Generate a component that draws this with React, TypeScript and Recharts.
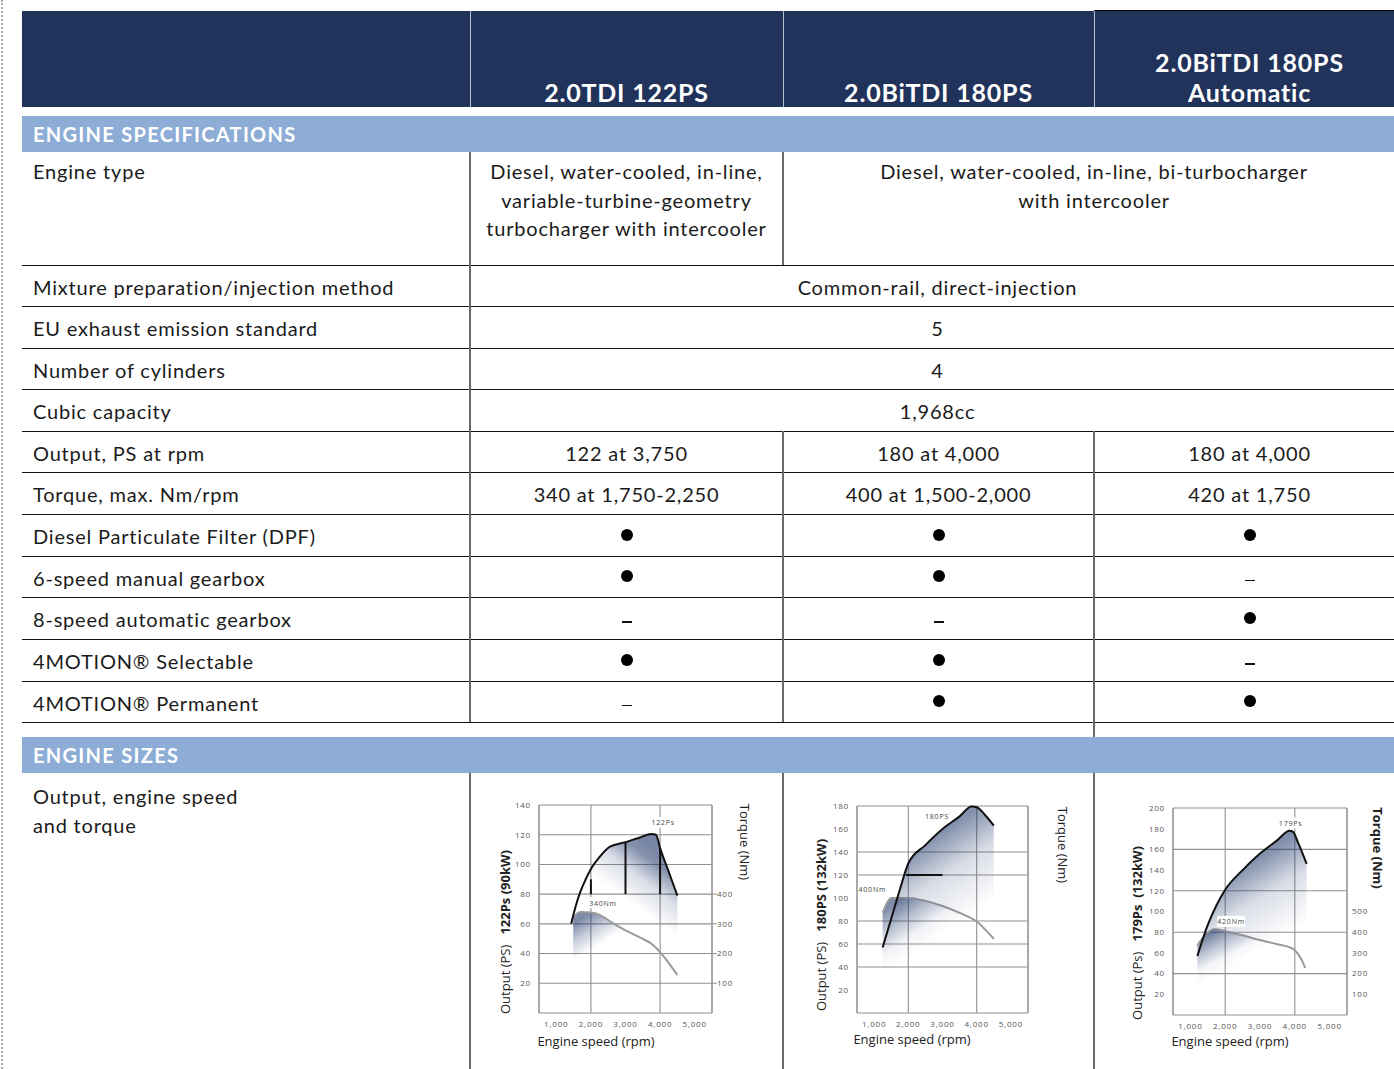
import React from "react";
import {
  ComposedChart,
  Area,
  XAxis,
  YAxis,
  CartesianGrid,
  ReferenceLine,
  ReferenceDot,
} from "recharts";

const NAVY = "#21335a";
const BAND_BLUE = "#8dadd6";
const FILL = "#1d3568";
const GRID = "#909090";

const modelNames = ["2.0TDI 122PS", "2.0BiTDI 180PS", "2.0BiTDI 180PS"];
const modelSubtitles = ["", "", "Automatic"];

const rpmTicks = [1000, 2000, 3000, 4000, 5000];
const rpmGrid = [500, 1000, 2000, 3000, 4000, 5000, 5500];

// 2.0TDI 122PS
const power122Rpm = [1430, 1550, 1670, 1850, 2000, 2250, 2550, 3000, 3400, 3750, 3880, 4000, 4250, 4500];
const power122Ps = [60, 71, 80, 90, 97, 105, 112, 115, 118, 120.5, 120, 111, 95, 79];
const torque340Rpm = [1490, 1600, 1700, 2000, 2250, 2600, 3000, 3400, 3750, 4000, 4250, 4500];
const torque340Nm = [320, 335, 340, 338, 330, 305, 278, 255, 233, 205, 168, 128];
const axis122Ps = [20, 40, 60, 80, 100, 120, 140];
const grid122Ps = [10, 20, 30, 40, 50, 60, 70, 80, 90, 100, 110, 120, 130, 140];
const axis122Nm = [100, 200, 300, 400];

// 2.0BiTDI 180PS
const power180Rpm = [1250, 1500, 1750, 2000, 2500, 3000, 3500, 3850, 4000, 4250, 4500];
const power180Ps = [57, 82, 107, 130, 146, 160, 171, 179.5, 179, 172, 163];
const torque400Rpm = [1250, 1400, 1500, 2000, 2500, 3000, 3500, 4000, 4250, 4500];
const torque400Nm = [348, 388, 400, 400, 390, 372, 348, 318, 290, 258];
const axis180Ps = [20, 40, 60, 80, 100, 120, 140, 160, 180];

// 2.0BiTDI 180PS Automatic
const power179Rpm = [1200, 1500, 1750, 2000, 2500, 3000, 3500, 3850, 3950, 4100, 4340];
const power179Ps = [57, 87, 106, 121, 140, 156, 169, 178, 177, 166, 146];
const torque420Rpm = [1200, 1450, 1700, 2000, 2500, 3000, 3500, 3800, 4000, 4150, 4300];
const torque420Nm = [337, 390, 414, 405, 385, 362, 342, 330, 313, 280, 228];
const axis179Ps = [20, 40, 60, 80, 100, 120, 140, 160, 180, 200];
const axis179Nm = [100, 200, 300, 400, 500];

type Pt = { rpm: number; v: number };
const zip = (xs: number[], ys: number[]): Pt[] => xs.map((rpm, i) => ({ rpm, v: ys[i] }));

const specRows = [
  {
    label: "Engine type",
    spans: [1, 2],
    values: [
      ["Diesel, water-cooled, in-line,", "variable-turbine-geometry", "turbocharger with intercooler"],
      ["Diesel, water-cooled, in-line, bi-turbocharger", "with intercooler"],
    ],
  },
  { label: "Mixture preparation/injection method", spans: [3], values: [["Common-rail, direct-injection"]] },
  { label: "EU exhaust emission standard", spans: [3], values: [["5"]] },
  { label: "Number of cylinders", spans: [3], values: [["4"]] },
  { label: "Cubic capacity", spans: [3], values: [["1,968cc"]] },
  { label: "Output, PS at rpm", spans: [1, 1, 1], values: [["122 at 3,750"], ["180 at 4,000"], ["180 at 4,000"]] },
  {
    label: "Torque, max. Nm/rpm",
    spans: [1, 1, 1],
    values: [["340 at 1,750-2,250"], ["400 at 1,500-2,000"], ["420 at 1,750"]],
  },
  { label: "Diesel Particulate Filter (DPF)", spans: [1, 1, 1], values: [["●"], ["●"], ["●"]] },
  { label: "6-speed manual gearbox", spans: [1, 1, 1], values: [["●"], ["●"], ["–"]] },
  { label: "8-speed automatic gearbox", spans: [1, 1, 1], values: [["–"], ["–"], ["●"]] },
  { label: "4MOTION® Selectable", spans: [1, 1, 1], values: [["●"], ["●"], ["–"]] },
  { label: "4MOTION® Permanent", spans: [1, 1, 1], values: [["–"], ["●"], ["●"]] },
];

const ROW_Y = [152, 265, 306, 348, 389, 431, 472, 514, 556, 597, 639, 681, 722];
const COL_X = [470, 783, 1094, 1405];
const TABLE_LEFT = 22;
const FONT = "Lato, 'Open Sans', sans-serif";
const CHART_FONT = "'Open Sans', sans-serif";

const fmtRpm = (v: number) => v.toLocaleString("en-US");

function tagShape(text: string) {
  return (p: any) => (
    <g>
      <rect x={p.cx - 14} y={p.cy - 6} width={28} height={11} fill="#fff" />
      <text x={p.cx} y={p.cy + 2.5} textAnchor="middle" fontSize={7} fontFamily={CHART_FONT} fill="#444">
        {text}
      </text>
    </g>
  );
}

type Tag = { x: number; y: number; text: string };
type Seg = { x1: number; y1: number; x2: number; y2: number };

function EngineChart(props: {
  id: string;
  left: number;
  top: number;
  width: number;
  height: number;
  yMax: number;
  yTicks: number[];
  yGrid: number[];
  rMax: number;
  rTicks: number[];
  rTickLine: boolean;
  power: Pt[];
  torque: Pt[];
  segments: Seg[];
  tags: Tag[];
  pGrad: number[];
  tGrad: number[];
}) {
  const { id } = props;
  const tick = { fontSize: 8, fill: "#555", fontFamily: CHART_FONT };
  return (
    <div style={{ position: "absolute", left: props.left - 35, top: props.top - 5 }}>
      <ComposedChart
        width={props.width + 70}
        height={props.height + 30}
        margin={{ top: 5, right: 0, bottom: 0, left: 0 }}
      >
        <defs>
          <linearGradient id={`p-${id}`} x1={props.pGrad[0]} y1={props.pGrad[1]} x2={props.pGrad[2]} y2={props.pGrad[3]}>
            <stop offset="0" stopColor={FILL} stopOpacity={1} />
            <stop offset="0.2" stopColor={FILL} stopOpacity={0.9} />
            <stop offset="0.55" stopColor={FILL} stopOpacity={0.28} />
            <stop offset="1" stopColor={FILL} stopOpacity={0} />
          </linearGradient>
          <linearGradient id={`t-${id}`} x1={props.tGrad[0]} y1={props.tGrad[1]} x2={props.tGrad[2]} y2={props.tGrad[3]}>
            <stop offset="0" stopColor={FILL} stopOpacity={0.95} />
            <stop offset="0.5" stopColor={FILL} stopOpacity={0.4} />
            <stop offset="1" stopColor={FILL} stopOpacity={0} />
          </linearGradient>
        </defs>
        <CartesianGrid
          yAxisId="left"
          horizontalValues={props.yGrid}
          verticalValues={rpmGrid}
          stroke={GRID}
          strokeWidth={1.1}
        />
        <XAxis
          type="number"
          dataKey="rpm"
          domain={[500, 5500]}
          ticks={rpmTicks}
          tickFormatter={fmtRpm}
          height={25}
          axisLine={{ stroke: GRID }}
          tickLine={false}
          tick={tick}
        />
        <YAxis
          yAxisId="left"
          domain={[0, props.yMax]}
          ticks={props.yTicks}
          width={35}
          axisLine={{ stroke: GRID }}
          tickLine={false}
          tick={tick}
        />
        <YAxis
          yAxisId="right"
          orientation="right"
          domain={[0, props.rMax]}
          ticks={props.rTicks}
          width={35}
          axisLine={{ stroke: GRID }}
          tickLine={props.rTickLine ? { stroke: GRID } : false}
          tickSize={5}
          tickMargin={0}
          tick={props.rTicks.length ? tick : false}
        />
        <Area
          yAxisId="right"
          data={props.torque}
          dataKey="v"
          type="monotone"
          stroke="#9a9a9a"
          strokeWidth={2}
          fill={`url(#t-${id})`}
          isAnimationActive={false}
        />
        <Area
          yAxisId="left"
          data={props.power}
          dataKey="v"
          type="monotone"
          stroke="#111"
          strokeWidth={2}
          fill={`url(#p-${id})`}
          isAnimationActive={false}
        />
        {props.segments.map((s, i) => (
          <ReferenceLine
            key={i}
            yAxisId="left"
            segment={[
              { x: s.x1, y: s.y1 },
              { x: s.x2, y: s.y2 },
            ]}
            stroke="#111"
            strokeWidth={2}
          />
        ))}
        {props.tags.map((t, i) => (
          <ReferenceDot key={i} yAxisId="left" x={t.x} y={t.y} r={0} shape={tagShape(t.text)} />
        ))}
      </ComposedChart>
    </div>
  );
}

function RotText(props: { x: number; y: number; angle: number; children: React.ReactNode; bold?: boolean }) {
  return (
    <div
      style={{
        position: "absolute",
        left: props.x,
        top: props.y,
        transform: `translate(-50%, -50%) rotate(${props.angle}deg)`,
        whiteSpace: "nowrap",
        fontFamily: CHART_FONT,
        fontSize: 13,
        letterSpacing: 0,
        color: "#222",
        fontWeight: props.bold ? 700 : 400,
      }}
    >
      {props.children}
    </div>
  );
}

function Mark({ kind }: { kind: string }) {
  if (kind === "●") {
    return <div style={{ width: 12, height: 12, borderRadius: 6, background: "#000", marginTop: -4 }} />;
  }
  return <div style={{ width: 10, height: 1.6, background: "#111", marginTop: 5 }} />;
}

export default function App() {
  const vline = (x: number, y1: number, y2: number, key: string) => (
    <div key={key} style={{ position: "absolute", left: x - 0.75, top: y1, width: 1.5, height: y2 - y1, background: "#6a6a6a" }} />
  );
  const lines: React.ReactNode[] = [];
  const cells: React.ReactNode[] = [];

  specRows.forEach((row, r) => {
    const top = ROW_Y[r];
    const bottom = ROW_Y[r + 1];
    const tall = r === 0;
    lines.push(
      <div key={`h${r}`} style={{ position: "absolute", left: TABLE_LEFT, top: bottom - 0.5, width: 1405 - TABLE_LEFT, height: 1, background: "#111" }} />
    );
    cells.push(
      <div
        key={`l${r}`}
        style={{
          position: "absolute",
          left: 33,
          top,
          height: bottom - top,
          display: "flex",
          alignItems: tall ? "flex-start" : "center",
          paddingTop: tall ? 5 : 3,
          boxSizing: "border-box",
          lineHeight: "28.5px",
          whiteSpace: "nowrap",
        }}
      >
        {row.label}
      </div>
    );
    let col = 0;
    row.spans.forEach((span, c) => {
      const x0 = COL_X[col];
      const x1 = COL_X[col + span];
      lines.push(vline(x0, top, bottom, `v${r}-${c}`));
      const vals = row.values[c];
      const isMark = vals[0] === "●" || vals[0] === "–";
      cells.push(
        <div
          key={`c${r}-${c}`}
          style={{
            position: "absolute",
            left: x0,
            top,
            width: x1 - x0,
            height: bottom - top,
            display: "flex",
            flexDirection: "column",
            alignItems: "center",
            justifyContent: tall ? "flex-start" : "center",
            paddingTop: tall ? 5 : 3,
            boxSizing: "border-box",
            lineHeight: "28.5px",
            textAlign: "center",
            whiteSpace: "nowrap",
          }}
        >
          {isMark ? <Mark kind={vals[0]} /> : vals.map((t, i) => <div key={i}>{t}</div>)}
        </div>
      );
      col += span;
    });
  });

  const band = (top: number, text: string) => (
    <div
      style={{
        position: "absolute",
        left: TABLE_LEFT,
        top,
        width: 1405 - TABLE_LEFT,
        height: 36,
        background: BAND_BLUE,
        color: "#fff",
        fontWeight: 700,
        fontSize: 20,
        letterSpacing: 1.3,
        display: "flex",
        alignItems: "center",
        paddingLeft: 11,
        boxSizing: "border-box",
      }}
    >
      {text}
    </div>
  );

  return (
    <div
      style={{
        position: "absolute",
        left: 0,
        top: 0,
        width: 1394,
        height: 1069,
        overflow: "hidden",
        background: "#fff",
        fontFamily: FONT,
        fontSize: 20,
        letterSpacing: 0.8,
        color: "#1b1b1b",
      }}
    >
      <div style={{ position: "absolute", left: 1, top: 0, height: 1069, borderLeft: "2px dotted #aaa" }} />

      {/* header */}
      <div style={{ position: "absolute", left: TABLE_LEFT, top: 11, width: 1405 - TABLE_LEFT, height: 96, background: NAVY }} />
      <div style={{ position: "absolute", left: 1094, top: 10, width: 311, height: 1, background: "#000" }} />
      {[470, 783, 1094].map((x) => (
        <div key={x} style={{ position: "absolute", left: x, top: 11, width: 1.2, height: 96, background: "#b8bfcc" }} />
      ))}
      {modelNames.map((name, i) => (
        <div
          key={i}
          style={{
            position: "absolute",
            left: COL_X[i],
            top: 11,
            width: COL_X[i + 1] - COL_X[i],
            height: 96,
            display: "flex",
            flexDirection: "column",
            justifyContent: "flex-end",
            alignItems: "center",
            color: "#fff",
            fontWeight: 700,
            fontSize: 25,
            letterSpacing: 0.8,
            lineHeight: "30px",
          }}
        >
          <div>{name}</div>
          {modelSubtitles[i] ? <div>{modelSubtitles[i]}</div> : null}
        </div>
      ))}

      {band(116, "ENGINE SPECIFICATIONS")}
      {lines}
      {cells}
      {vline(1094, 722, 737, "gap")}

      {band(737, "ENGINE SIZES")}
      {[470, 783, 1094].map((x) => vline(x, 773, 1069, `s${x}`))}
      <div style={{ position: "absolute", left: 33, top: 782, lineHeight: "28.5px" }}>
        <div>Output, engine speed</div>
        <div>and torque</div>
      </div>

      <EngineChart
        id="c1"
        left={539}
        top={805}
        width={173}
        height={208}
        yMax={140}
        yTicks={axis122Ps}
        yGrid={grid122Ps}
        rMax={700}
        rTicks={axis122Nm}
        rTickLine={true}
        power={zip(power122Rpm, power122Ps)}
        torque={zip(torque340Rpm, torque340Nm)}
        segments={[
          { x1: 2000, y1: 80, x2: 2000, y2: 90 },
          { x1: 3000, y1: 80, x2: 3000, y2: 115 },
          { x1: 4000, y1: 80, x2: 4000, y2: 111 },
        ]}
        tags={[
          { x: 4090, y: 128, text: "122Ps" },
          { x: 2350, y: 74, text: "340Nm" },
        ]}
        pGrad={[0.65, 0.02, 0.5, 0.36]}
        tGrad={[0.15, 0.02, 0.32, 0.28]}
      />
      <EngineChart
        id="c2"
        left={857}
        top={806}
        width={171}
        height={207}
        yMax={180}
        yTicks={axis180Ps}
        yGrid={axis180Ps}
        rMax={720}
        rTicks={[]}
        rTickLine={false}
        power={zip(power180Rpm, power180Ps)}
        torque={zip(torque400Rpm, torque400Nm)}
        segments={[{ x1: 1930, y1: 120, x2: 3000, y2: 120 }]}
        tags={[
          { x: 2840, y: 171, text: "180PS" },
          { x: 950, y: 107, text: "400Nm" },
        ]}
        pGrad={[0.4, 0.05, 0.6, 0.6]}
        tGrad={[0.15, 0.02, 0.32, 0.28]}
      />
      <EngineChart
        id="c3"
        left={1173}
        top={808}
        width={174}
        height={207}
        yMax={200}
        yTicks={axis179Ps}
        yGrid={axis179Ps}
        rMax={1000}
        rTicks={axis179Nm}
        rTickLine={false}
        power={zip(power179Rpm, power179Ps)}
        torque={zip(torque420Rpm, torque420Nm)}
        segments={[]}
        tags={[
          { x: 3880, y: 185, text: "179Ps" },
          { x: 2170, y: 90, text: "420Nm" },
        ]}
        pGrad={[0.5, 0.05, 0.7, 0.6]}
        tGrad={[0.15, 0.02, 0.32, 0.28]}
      />

      <RotText x={505} y={932} angle={-90}>
        Output (PS)&nbsp;&nbsp;&nbsp;<b>122Ps (90kW)</b>
      </RotText>
      <RotText x={745} y={842} angle={90}>
        Torque (Nm)
      </RotText>
      <RotText x={596} y={1041} angle={0}>
        Engine speed (rpm)
      </RotText>

      <RotText x={821} y={925} angle={-90}>
        Output (PS)&nbsp;&nbsp;&nbsp;<b>180PS (132kW)</b>
      </RotText>
      <RotText x={1063} y={845} angle={90}>
        Torque (Nm)
      </RotText>
      <RotText x={912} y={1039} angle={0}>
        Engine speed (rpm)
      </RotText>

      <RotText x={1137} y={933} angle={-90}>
        Output (Ps)&nbsp;&nbsp;&nbsp;<b>179Ps&nbsp;&nbsp;(132kW)</b>
      </RotText>
      <RotText x={1378} y={848} angle={90} bold>
        Torque (Nm)
      </RotText>
      <RotText x={1230} y={1041} angle={0}>
        Engine speed (rpm)
      </RotText>
    </div>
  );
}
